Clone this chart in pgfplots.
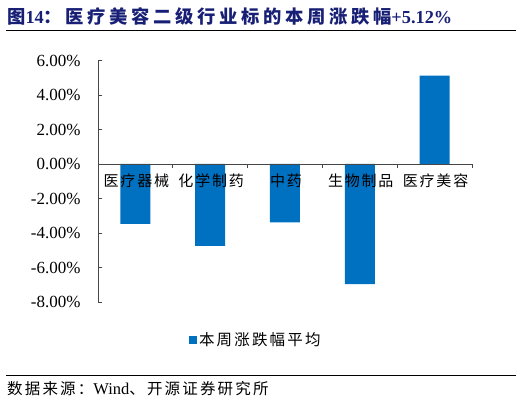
\documentclass[border=0pt]{standalone}
\usepackage{fontspec}
\setmainfont{Liberation Serif}
\newfontfamily\cjk[LetterSpace=12]{Noto Sans CJK SC}
\newfontfamily\cjks[LetterSpace=14]{Noto Sans CJK SC}
\newfontfamily\cjkt[LetterSpace=20]{Noto Sans CJK SC}
\usepackage{pgfplots}
\pgfplotsset{compat=1.18}
\definecolor{barblue}{RGB}{0,112,192}
\definecolor{titleblue}{RGB}{24,32,118}
\definecolor{axisgray}{RGB}{70,70,70}

\begin{document}
\begin{tikzpicture}[x=1pt,y=1pt]
  \path (0,0) rectangle (522,405);
  % title and rules
  \node[anchor=west, text=titleblue, inner sep=0pt] at (7,388.5)
    {\fontsize{18.3}{20}\selectfont{\cjkt\bfseries 图}{\bfseries 14}{\cjkt\bfseries ：医疗美容二级行业标的本周涨跌幅}{\bfseries +5.12\%}};
  \draw[line width=1pt] (6,374) -- (516,374);
  \draw[line width=1pt] (6,30) -- (516,30);
  \node[anchor=west, inner sep=0pt] at (7,16)
    {\fontsize{15.5}{17}\selectfont{\cjks 数据来源：}{\fontsize{16.5}{17}\selectfont Wind}{\cjks 、开源证券研究所}};

  \begin{axis}[
    at={(98pt,103pt)}, anchor=south west,
    scale only axis, width=374pt, height=241.5pt,
    xmin=-0.5, xmax=4.5, ymin=-8, ymax=6,
    axis on top,
    axis y line*=left, axis x line*=middle,
    axis line style={axisgray, line width=0.8pt},
    every tick/.style={axisgray, line width=0.8pt},
    ytick={-8,-6,...,6},
    ytick align=inside, major tick length=4pt,
    xtick={0.5,1.5,2.5,3.5,4.5}, xticklabels={},
    xtick align=inside,
    extra x ticks={0,1,2,3,4},
    extra x tick labels={医疗器械,化学制药,中药,生物制品,医疗美容},
    extra x tick style={major tick length=0pt,
      xticklabel style={font=\fontsize{15}{17}\selectfont\cjk, anchor=north, yshift=-6pt, xshift=1pt}},
    /pgf/number format/assume math mode=true,
    yticklabel={\pgfmathprintnumber[fixed,fixed zerofill,precision=2]{\tick}\%},
    yticklabel style={font=\fontsize{17}{19}\selectfont, anchor=east, xshift=-14pt},
    ybar, bar width=30pt, bar shift=0pt,
    legend style={at={(axis description cs:0.243,-0.157)}, anchor=west, draw=none,
      font=\fontsize{15.5}{17}\selectfont\cjks, inner sep=0pt,
      /tikz/every even column/.append style={column sep=0pt}},
    legend image code/.code={\fill[barblue] (0pt,-4pt) rectangle (8pt,4pt);},
    clip=false,
  ]
    \addplot[fill=barblue, draw=none] coordinates {
      (0,-3.47) (1,-4.74) (2,-3.39) (3,-6.96) (4,5.12)};
    \addlegendentry{本周涨跌幅平均}
  \end{axis}
\end{tikzpicture}
\end{document}
